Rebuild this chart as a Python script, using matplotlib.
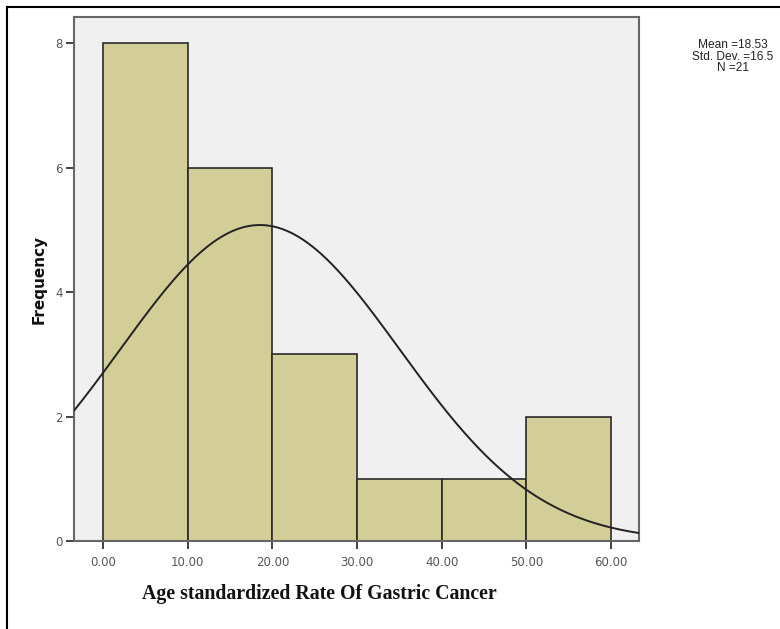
import numpy as np
import matplotlib
matplotlib.use("Agg")
import matplotlib.pyplot as plt
from matplotlib.lines import Line2D

# Data
bin_edges = [0, 10, 20, 30, 40, 50, 60]
counts = [8, 6, 3, 1, 1, 2]
mean_val = 18.53
sd_val = 16.5
n_val = 21
xtick_vals = [0, 10, 20, 30, 40, 50, 60]
xtick_labels = ["0.00", "10.00", "20.00", "30.00", "40.00", "50.00", "60.00"]
ytick_vals = [0, 2, 4, 6, 8]

W, H = 780, 629
fig = plt.figure(figsize=(W / 100, H / 100), dpi=100)
fig.patch.set_facecolor("white")

# outer frame lines
fig.add_artist(Line2D([7 / W, 7 / W], [0, 1 - 7 / H], color="black", lw=1.5, transform=fig.transFigure))
fig.add_artist(Line2D([7 / W, 1], [1 - 7 / H, 1 - 7 / H], color="black", lw=1.5, transform=fig.transFigure))

left, right, top, bottom = 74, 639, 17, 541
ax = fig.add_axes([left / W, 1 - bottom / H, (right - left) / W, (bottom - top) / H])
ax.set_facecolor("#f0f0f0")

widths = np.diff(bin_edges)
ax.bar(bin_edges[:-1], counts, width=widths, align="edge", color="#d3ce97",
       edgecolor="#2a2a2a", linewidth=1.2, zorder=2)

xs = np.linspace(-3.5, 63.5, 400)
bw = widths[0]
ys = n_val * bw / (sd_val * np.sqrt(2 * np.pi)) * np.exp(-0.5 * ((xs - mean_val) / sd_val) ** 2)
ax.plot(xs, ys, color="#222222", lw=1.4, zorder=3)

ax.set_xlim(-3.43, 63.3)
ax.set_ylim(0, 8.42)

ax.set_xticks(xtick_vals)
ax.set_xticklabels(xtick_labels)
ax.set_yticks(ytick_vals)
ax.tick_params(axis="both", direction="out", colors="#222222", labelcolor="#555555",
               labelsize=8.5, length=6, width=1.2)
ax.tick_params(axis="x", pad=5)
ax.tick_params(axis="y", pad=2)
for s in ax.spines.values():
    s.set_color("#666666")
    s.set_linewidth(1.5)

ax.set_ylabel("Frequency", fontsize=11, fontweight="bold", family="DejaVu Sans",
              color="#111111")
ax.yaxis.set_label_coords(-0.048, 0.5)
ax.set_xlabel("Age standardized Rate Of Gastric Cancer", fontsize=14.3, fontweight="bold",
              family="Liberation Serif", color="#111111")
ax.xaxis.set_label_coords(0.434, -0.082)

fig.text(733 / W, 1 - 39 / H, f"Mean ={mean_val}\nStd. Dev. ={sd_val}\nN ={n_val}",
         ha="center", va="top", fontsize=8.6, family="Liberation Sans", color="#222222",
         linespacing=0.95)

fig.savefig("out.png", dpi=100)
